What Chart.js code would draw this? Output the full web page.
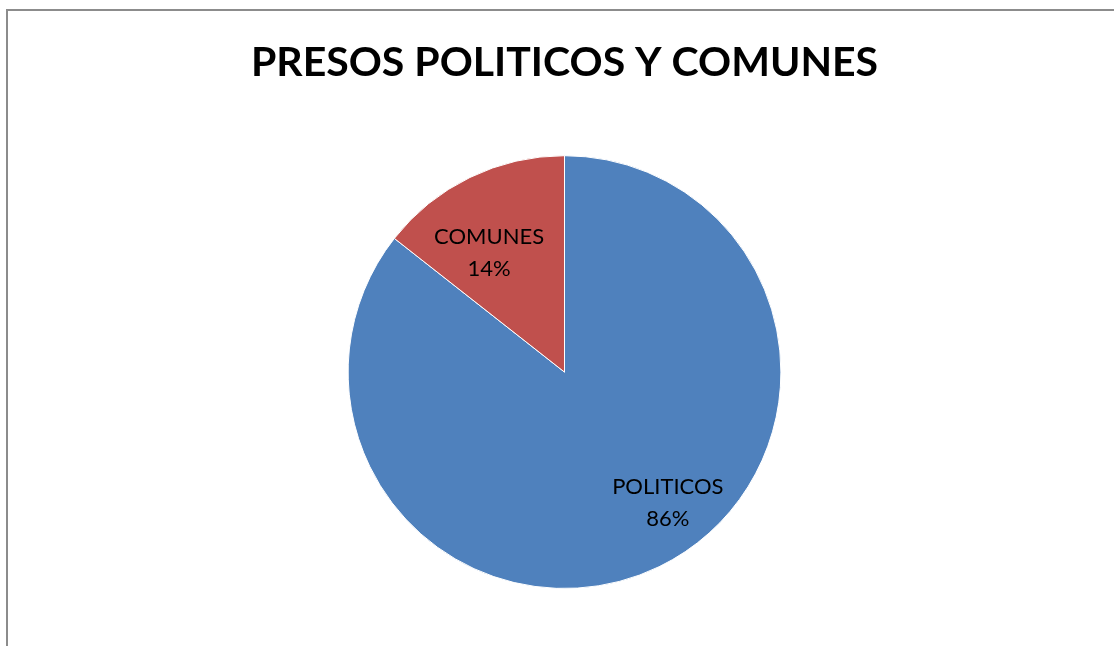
<!DOCTYPE html>
<html>
<head>
<meta charset="utf-8">
<script src="https://cdn.jsdelivr.net/npm/chart.js@4"></script>
<style>
  html, body { margin: 0; padding: 0; background: #fff; }
  #wrap { position: relative; width: 1114px; height: 646px; }
  #frame { position: absolute; left: 6px; top: 9px; right: -4px; bottom: -4px;
           border-left: 2px solid #8c8c8c; border-top: 2px solid #8c8c8c; }
  canvas { position: absolute; left: 0; top: 0; }
</style>
</head>
<body>
<div id="wrap">
  <div id="frame"></div>
  <canvas id="grafico" width="1114" height="646"></canvas>
</div>
<script>
const categorias = ['POLITICOS', 'COMUNES'];
// shares; labels show them rounded
const porcentajes = [85.6, 14.4];
const colores = ['#4F81BD', '#C0504D'];

// where each data label sits: fraction of radius and angle nudge (deg) from the slice middle
const etiquetaRadio = [0.77, 0.65];
const etiquetaGiro = [-12.4, -6.5];

const etiquetas = {
  id: 'etiquetas',
  afterDatasetsDraw(chart) {
    const ctx = chart.ctx;
    const meta = chart.getDatasetMeta(0);
    const total = porcentajes.reduce((s, v) => s + v, 0);
    ctx.save();
    ctx.fillStyle = '#000';
    ctx.font = '22px Lato';
    ctx.textAlign = 'center';
    ctx.textBaseline = 'middle';
    meta.data.forEach((arc, i) => {
      const p = arc.getProps(['x', 'y', 'startAngle', 'endAngle', 'outerRadius'], true);
      const a = (p.startAngle + p.endAngle) / 2 + etiquetaGiro[i] * Math.PI / 180;
      const r = p.outerRadius * etiquetaRadio[i];
      const x = p.x + Math.cos(a) * r;
      const y = p.y + Math.sin(a) * r;
      ctx.fillText(categorias[i], x, y - 16);
      ctx.fillText(Math.round(porcentajes[i] / total * 100) + '%', x, y + 16);
    });
    ctx.restore();
  }
};

new Chart(document.getElementById('grafico'), {
  type: 'pie',
  data: {
    labels: categorias,
    datasets: [{
      data: porcentajes,
      backgroundColor: colores,
      borderColor: '#ffffff',
      borderWidth: 1
    }]
  },
  options: {
    responsive: false,
    animation: false,
    layout: { padding: { top: 0, bottom: 57, left: 15, right: 0 } },
    plugins: {
      legend: { display: false },
      tooltip: { enabled: false },
      title: {
        display: true,
        text: 'PRESOS POLITICOS Y COMUNES',
        color: '#000',
        font: { family: 'Lato', size: 41, weight: 'bold', lineHeight: 1.2 },
        padding: { top: 38, bottom: 68 }
      }
    }
  },
  plugins: [etiquetas]
});
</script>
</body>
</html>
